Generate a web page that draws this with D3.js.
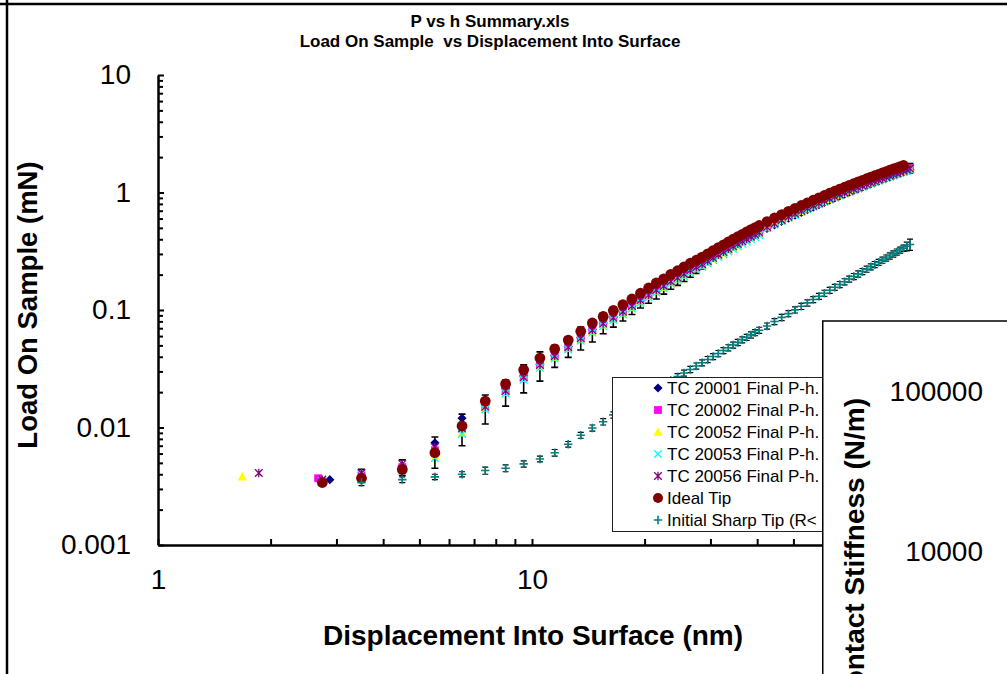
<!DOCTYPE html>
<html>
<head>
<meta charset="utf-8">
<script src="https://cdn.jsdelivr.net/npm/d3@7/dist/d3.min.js"></script>
<style>
html,body{margin:0;padding:0;background:#fff;}
svg{display:block;}
text{font-family:"Liberation Sans", Arial, Helvetica, sans-serif;}
</style>
</head>
<body>
<svg id="chart"></svg>
<script>
// ---------------- data ----------------
const depth = [2.75, 3.5, 4.5, 5.5, 6.5, 7.5, 8.5, 9.5, 10.5, 11.5, 12.5, 13.5, 14.5, 15.5, 16.5, 17.5, 18.5, 19.5, 20.5, 21.5,
  22.5, 23.5, 24.5, 25.5, 26.5, 27.5, 28.5, 29.5, 30.5, 31.5, 32.5, 33.5, 34.5, 35.5, 36.5, 37.5, 38.5, 39.5, 40.5,
  42.5, 44.5, 46.5, 48.5, 50.5, 52.5, 54.5, 56.5, 58.5, 60.5, 62.5, 64.5, 66.5, 68.5, 70.5, 72.5, 74.5, 76.5, 78.5,
  80.5, 82.5, 84.5, 86.5, 88.5, 90.5, 92.5, 94.5, 96.5, 98.5, 100.5, 102.5];

const idealTip = [0.0034, 0.0037, 0.0044, 0.0061, 0.0103, 0.0168, 0.0235, 0.031, 0.039, 0.0466,
  0.0555, 0.066, 0.0775, 0.088, 0.099, 0.111, 0.124, 0.139, 0.154, 0.170,
  0.184, 0.201, 0.216, 0.233, 0.250, 0.265, 0.282, 0.300, 0.320, 0.340,
  0.359, 0.380, 0.400, 0.420, 0.441, 0.462, 0.483, 0.503, 0.524,
  0.565, 0.607, 0.649, 0.691, 0.733, 0.775, 0.817, 0.859, 0.901, 0.943, 0.985,
  1.026, 1.068, 1.108, 1.149, 1.190, 1.230, 1.270, 1.310, 1.350, 1.390,
  1.429, 1.468, 1.507, 1.546, 1.585, 1.623, 1.661, 1.699, null, null];

const tc20001 = [null, 0.0038, 0.0047, 0.0074, 0.0120, 0.0158, 0.0215, 0.0275, 0.0345,
  0.0410, 0.0488, 0.0581, 0.0682, 0.0774, 0.0871, 0.0977, 0.109, 0.122, 0.136, 0.150,
  0.162, 0.177, 0.190, 0.205, 0.220, 0.233, 0.248, 0.264, 0.282, 0.299,
  0.316, 0.334, 0.352, 0.370, 0.388, 0.407, 0.425, 0.443, 0.461,
  0.494, 0.531, 0.568, 0.605, 0.641, 0.678, 0.715, 0.752, 0.788, 0.825, 0.862,
  0.898, 0.935, 0.970, 1.005, 1.041, 1.076, 1.111, 1.146, 1.181, 1.216,
  1.250, 1.285, 1.319, 1.353, 1.387, 1.420, 1.453, 1.487, 1.520, 1.553];

const tc20002 = [null, 0.0039, 0.0046, 0.0064, 0.0100, 0.0148, 0.0203, 0.0269, 0.0344,
  0.0413, 0.0492, 0.0586, 0.0676, 0.0784, 0.0888, 0.0988, 0.110, 0.124, 0.137, 0.151,
  0.164, 0.179, 0.192, 0.207, 0.223, 0.236, 0.251, 0.267, 0.285, 0.303,
  0.320, 0.338, 0.356, 0.374, 0.392, 0.411, 0.430, 0.448, 0.466,
  0.514, 0.552, 0.591, 0.629, 0.667, 0.705, 0.743, 0.782, 0.820, 0.858, 0.896,
  0.934, 0.972, 1.008, 1.046, 1.083, 1.119, 1.156, 1.192, 1.229, 1.265,
  1.300, 1.336, 1.371, 1.407, 1.442, 1.477, 1.512, 1.546, 1.581, 1.615];

const tc20002Err = [null, 0.0005, 0.0007, 0.0019, 0.0030, 0.0041, 0.0051, 0.0072, 0.0096,
  0.0088, 0.0097, 0.0129, 0.0142, 0.0157, 0.0173, 0.0182, 0.0185, 0.020, 0.023, 0.027,
  0.0275, 0.029, 0.030, 0.032, 0.033, 0.031, 0.028, 0.022, 0.018, 0.015,
  0.013, 0.012, 0.012, 0.012, 0.013, 0.013, 0.013, 0.014, 0.014,
  0.015, 0.016, 0.017, 0.018, 0.019, 0.020, 0.021, 0.022, 0.023, 0.024, 0.025,
  0.026, 0.027, 0.028, 0.029, 0.030, 0.031, 0.032, 0.033, 0.034, 0.035,
  0.036, 0.037, 0.038, 0.039, 0.040, 0.041, 0.042, 0.043, 0.12, 0.15];

const tc20052 = [0.0035, 0.0036, 0.0045, 0.0058, 0.0090, 0.0147, 0.0200, 0.0262, 0.0330,
  0.0396, 0.0472, 0.0561, 0.0659, 0.0748, 0.0842, 0.0944, 0.105, 0.118, 0.131, 0.145,
  0.156, 0.171, 0.184, 0.198, 0.213, 0.225, 0.240, 0.255, 0.272, 0.289,
  0.305, 0.323, 0.340, 0.357, 0.375, 0.393, 0.411, 0.428, 0.445,
  0.503, 0.540, 0.578, 0.615, 0.652, 0.690, 0.727, 0.765, 0.802, 0.839, 0.877,
  0.913, 0.951, 0.986, 1.023, 1.059, 1.095, 1.130, 1.166, 1.202, 1.237,
  1.272, 1.307, 1.341, 1.376, 1.411, 1.444, 1.478, 1.512, 1.546, 1.580];

const tc20053 = [0.0035, 0.0040, 0.0043, 0.0055, 0.0088, 0.0142, 0.0195, 0.0255, 0.0322,
  0.0387, 0.0461, 0.0548, 0.0643, 0.0730, 0.0822, 0.0921, 0.103, 0.115, 0.128, 0.141,
  0.153, 0.167, 0.179, 0.193, 0.208, 0.220, 0.234, 0.249, 0.266, 0.282,
  0.298, 0.315, 0.332, 0.349, 0.366, 0.383, 0.401, 0.417, 0.435,
  0.497, 0.534, 0.571, 0.608, 0.645, 0.682, 0.719, 0.756, 0.793, 0.830, 0.867,
  0.903, 0.940, 0.975, 1.011, 1.047, 1.082, 1.118, 1.153, 1.188, 1.223,
  1.258, 1.292, 1.326, 1.360, 1.395, 1.428, 1.462, 1.495, 1.529, 1.562];

const tc20056 = [0.0036, 0.0041, 0.0049, 0.0068, 0.0098, 0.0150, 0.0205, 0.0268, 0.0340,
  0.0405, 0.0483, 0.0574, 0.0674, 0.0766, 0.0861, 0.0966, 0.108, 0.121, 0.134, 0.148,
  0.160, 0.175, 0.188, 0.203, 0.218, 0.231, 0.245, 0.261, 0.278, 0.296,
  0.312, 0.331, 0.348, 0.365, 0.384, 0.402, 0.420, 0.438, 0.456,
  0.509, 0.546, 0.584, 0.622, 0.660, 0.698, 0.735, 0.773, 0.811, 0.849, 0.887,
  0.923, 0.961, 0.997, 1.034, 1.071, 1.107, 1.143, 1.179, 1.215, 1.251,
  1.286, 1.321, 1.356, 1.391, 1.427, 1.461, 1.495, 1.529, 1.563, 1.598];

const sharpTip = [null, 0.0034, 0.0036, 0.0038, 0.0040, 0.0043, 0.0045, 0.0049, 0.0054,
  0.0061, 0.0072, 0.0086, 0.0099, 0.0112, 0.0128, 0.0145, 0.0161, 0.0178, 0.0196, 0.0214,
  0.0232, 0.0251, 0.0271, 0.0291, 0.0312, 0.0334, 0.0356, 0.0379, 0.0402, 0.0426,
  0.0452, 0.0477, 0.0503, 0.0530, 0.0558, 0.0585, 0.0614, 0.0643, 0.0673,
  0.0731, 0.0798, 0.0865, 0.0932, 0.1003, 0.1075, 0.1150, 0.1228, 0.1308, 0.1390, 0.1473,
  0.1561, 0.1649, 0.1741, 0.1834, 0.1929, 0.2027, 0.2127, 0.2229, 0.2333, 0.2440,
  0.2549, 0.2659, 0.2771, 0.2885, 0.3001, 0.3119, 0.3239, 0.3360, 0.3485, 0.3614];

const sharpTipErr = [null, 0.0002, 0.0002, 0.0002, 0.0002, 0.0003, 0.0003, 0.0003, 0.0003,
  0.0004, 0.0004, 0.0005, 0.0006, 0.0007, 0.0008, 0.0009, 0.0010, 0.0011, 0.0012, 0.0013,
  0.0014, 0.0015, 0.0016, 0.0017, 0.0019, 0.0020, 0.0021, 0.0023, 0.0024, 0.0026,
  0.0027, 0.0029, 0.0030, 0.0032, 0.0033, 0.0035, 0.0037, 0.0039, 0.0040,
  0.0044, 0.0048, 0.0052, 0.0056, 0.0060, 0.0065, 0.0069, 0.0074, 0.0078, 0.0083, 0.0088,
  0.0094, 0.0099, 0.0104, 0.0110, 0.0116, 0.0122, 0.0128, 0.0134, 0.0140, 0.0146,
  0.0153, 0.0160, 0.0166, 0.0173, 0.0180, 0.0187, 0.0194, 0.0202, 0.030, 0.040];

// first points of some runs sit at their own depths
const lead20001Depth = [2.88], lead20001Load = [0.0036];
const lead20002Depth = [2.68], lead20002Load = [0.0037];
const lead20052Depth = [1.68], lead20052Load = [0.0038];
const lead20056Depth = [1.86], lead20056Load = [0.0041];

const titleLines = ["P vs h Summary.xls", "Load On Sample  vs Displacement Into Surface"];
const xTitle = "Displacement Into Surface (nm)";
const yTitle = "Load On Sample (mN)";
const y2Title = "Contact Stiffness (N/m)";
const yTickValues = [0.001, 0.01, 0.1, 1, 10];
const xTickLabels = [1, 10];
const xMajorTicks = [1, 10, 100, 1000];
const y2TickValues = [10000, 100000];
const legendLabels = ["TC 20001 Final P-h.", "TC 20002 Final P-h.", "TC 20052 Final P-h.",
  "TC 20053 Final P-h.", "TC 20056 Final P-h.", "Ideal Tip", "Initial Sharp Tip (R<"];

// ---------------- drawing ----------------
const W = 1007, H = 674;
const svg = d3.select("#chart").attr("width", W).attr("height", H);
svg.append("rect").attr("width", W).attr("height", H).attr("fill", "#fff");

const defs = svg.append("defs");
defs.append("clipPath").attr("id", "legendClip").append("rect")
  .attr("x", 0).attr("y", 0).attr("width", 822).attr("height", H);

const x = d3.scaleLog().domain([1, 1000]).range([158, 1280]);
const y = d3.scaleLog().domain([0.001, 10]).range([545, 75]);
const y2 = d3.scaleLog().domain([10000, 100000]).range([552, 392]);

// outer chart frame
svg.append("line").attr("x1", 0).attr("x2", W).attr("y1", 4).attr("y2", 4)
  .attr("stroke", "#000").attr("stroke-width", 2.5);
svg.append("line").attr("x1", 7).attr("x2", 7).attr("y1", 0).attr("y2", H)
  .attr("stroke", "#000").attr("stroke-width", 2.5);

// titles
svg.append("text").attr("x", 490).attr("y", 27).attr("text-anchor", "middle")
  .attr("font-size", 17).attr("font-weight", "bold").text(titleLines[0]);
svg.append("text").attr("x", 490).attr("y", 47).attr("text-anchor", "middle")
  .attr("font-size", 17).attr("font-weight", "bold").style("white-space", "pre").text(titleLines[1]);

const isPow10 = v => Math.abs(Math.log10(v) - Math.round(Math.log10(v))) < 1e-9;
const styleAxis = g => {
  g.attr("font-family", "'Liberation Sans', Arial, sans-serif");
  g.selectAll(".tick line").attr("stroke", "#000").attr("stroke-width", 2);
  g.selectAll(".domain").attr("stroke", "#000").attr("stroke-width", 2.5);
  g.selectAll("text").attr("fill", "#000");
};

const main = svg.append("g");

// Y axis (minor ticks, major ticks + labels)
main.append("g").attr("transform", "translate(158,0)")
  .call(d3.axisLeft(y).tickValues(y.ticks().filter(v => !isPow10(v))).tickFormat(() => "")
    .tickSizeInner(-5).tickSizeOuter(0))
  .call(g => g.select(".domain").remove())
  .call(g => g.selectAll("text").remove())
  .call(styleAxis);
main.append("g").attr("transform", "translate(158,0)")
  .call(d3.axisLeft(y).tickValues(yTickValues).tickFormat(d => String(d))
    .tickSizeInner(-6).tickSizeOuter(0).tickPadding(27))
  .attr("font-size", 28)
  .call(styleAxis);

// X axis
main.append("g").attr("transform", "translate(0,545)")
  .call(d3.axisBottom(x).tickValues(x.ticks().filter(v => !isPow10(v))).tickFormat(() => "")
    .tickSizeInner(-6).tickSizeOuter(0))
  .call(g => g.select(".domain").remove())
  .call(g => g.selectAll("text").remove())
  .call(styleAxis);
main.append("g").attr("transform", "translate(0,545)")
  .call(d3.axisBottom(x).tickValues(xMajorTicks).tickFormat(() => "")
    .tickSizeInner(-6).tickSizeOuter(0))
  .call(g => g.selectAll("text").remove())
  .call(styleAxis);
main.append("g").attr("transform", "translate(0,545)")
  .call(d3.axisBottom(x).tickValues(xTickLabels).tickFormat(d => String(d))
    .tickSize(0).tickPadding(24))
  .attr("font-size", 28)
  .call(g => g.select(".domain").remove())
  .call(styleAxis);

// axis titles
svg.append("text").attr("x", 533).attr("y", 645).attr("text-anchor", "middle")
  .attr("font-size", 28).attr("font-weight", "bold").text(xTitle);
svg.append("text").attr("transform", "translate(37,305) rotate(-90)").attr("text-anchor", "middle")
  .attr("font-size", 27.5).attr("font-weight", "bold").text(yTitle);

// ---------- markers ----------
const shapePath = {
  diamond: r => `M0,${-r}L${r},0L0,${r}L${-r},0Z`,
  square: r => `M${-r},${-r}H${r}V${r}H${-r}Z`,
  triangle: r => `M0,${-r * 1.05}L${r},${r * 0.8}L${-r},${r * 0.8}Z`,
  circle: r => d3.symbol(d3.symbolCircle, Math.PI * r * r)(),
  xmark: r => `M${-r},${-r}L${r},${r}M${-r},${r}L${r},${-r}`,
  star: r => `M${-r},${-r}L${r},${r}M${-r},${r}L${r},${-r}M0,${-r * 1.1}L0,${r * 1.1}`,
  plus: r => `M${-r},0H${r}M0,${-r}V${r}`
};
const filledShape = {diamond: true, square: true, triangle: true, circle: true, xmark: false, star: false, plus: false};

const seriesDefs = [
  {label: legendLabels[0], h: lead20001Depth.concat(depth), p: lead20001Load.concat(tc20001), color: "#000080", shape: "diamond", r: 4.6, sw: 1},
  {label: legendLabels[1], h: lead20002Depth.concat(depth), p: lead20002Load.concat(tc20002), color: "#FF00FF", shape: "square", r: 3.9, sw: 1},
  {label: legendLabels[2], h: lead20052Depth.concat(depth), p: lead20052Load.concat(tc20052), color: "#FFFF00", shape: "triangle", r: 4.6, sw: 1},
  {label: legendLabels[3], h: depth, p: tc20053, color: "#00FFFF", shape: "xmark", r: 3.8, sw: 1.3},
  {label: legendLabels[4], h: lead20056Depth.concat(depth), p: lead20056Load.concat(tc20056), color: "#800080", shape: "star", r: 3.8, sw: 1.3},
  {label: legendLabels[5], h: depth, p: idealTip, color: "#800000", shape: "circle", r: 5.4, sw: 1},
  {label: legendLabels[6], h: depth, p: sharpTip, color: "#008080", shape: "plus", r: 4.2, sw: 1.6}
];

function drawErrorBars(g, hs, ps, es, capHalf, sw) {
  const rows = hs.map((h, i) => ({h, p: ps[i], e: es[i]})).filter(d => d.p != null && d.e != null);
  const eg = g.append("g").attr("stroke", "#000").attr("stroke-width", sw).attr("fill", "none");
  eg.selectAll("path").data(rows).join("path")
    .attr("d", d => {
      const cx = x(d.h), y1 = y(d.p + d.e), y0 = y(Math.max(d.p - d.e, 1e-4));
      return `M${cx},${y0}V${y1}M${cx - capHalf},${y1}H${cx + capHalf}M${cx - capHalf},${y0}H${cx + capHalf}`;
    });
}

const dataG = main.append("g");
drawErrorBars(dataG, depth, tc20002, tc20002Err, 3.5, 1.6);
drawErrorBars(dataG, depth, sharpTip, sharpTipErr, 3, 1.2);

seriesDefs.forEach(s => {
  const pts = s.h.map((h, i) => ({h, p: s.p[i]})).filter(d => d.p != null);
  const filled = filledShape[s.shape];
  dataG.append("g").selectAll("path").data(pts).join("path")
    .attr("transform", d => `translate(${x(d.h)},${y(d.p)})`)
    .attr("d", shapePath[s.shape](s.r))
    .attr("fill", filled ? s.color : "none")
    .attr("stroke", filled ? "none" : s.color)
    .attr("stroke-width", s.sw);
});

// ---------- legend ----------
const lg = main.append("g").attr("clip-path", "url(#legendClip)");
lg.append("rect").attr("x", 612.5).attr("y", 377.5).attr("width", 260).attr("height", 154)
  .attr("fill", "#fff").attr("stroke", "#222").attr("stroke-width", 1);
seriesDefs.forEach((s, i) => {
  const cy = 388 + i * 22;
  const filled = filledShape[s.shape];
  lg.append("path").attr("transform", `translate(658,${cy})`)
    .attr("d", shapePath[s.shape](s.shape === "circle" ? 5 : s.r))
    .attr("fill", filled ? s.color : "none")
    .attr("stroke", filled ? "none" : s.color)
    .attr("stroke-width", s.sw);
  lg.append("text").attr("x", 667).attr("y", cy).attr("dy", "0.36em")
    .attr("font-size", 17).attr("fill", "#000").text(s.label);
});

// ---------- overlapping second chart (Contact Stiffness) ----------
const panel = svg.append("g");
panel.append("rect").attr("x", 822.75).attr("y", 321).attr("width", 300).attr("height", 400)
  .attr("fill", "#fff").attr("stroke", "#000").attr("stroke-width", 1.5);
panel.append("g").attr("transform", "translate(1012,0)")
  .call(d3.axisLeft(y2).tickValues(y2TickValues).tickFormat(d => String(d))
    .tickSizeInner(0).tickSizeOuter(0).tickPadding(29))
  .attr("font-size", 28)
  .call(g => g.select(".domain").remove())
  .call(styleAxis);
panel.append("text").attr("transform", "translate(864,398) rotate(-90)").attr("text-anchor", "end")
  .attr("font-size", 28).attr("font-weight", "bold").text(y2Title);
</script>
</body>
</html>
